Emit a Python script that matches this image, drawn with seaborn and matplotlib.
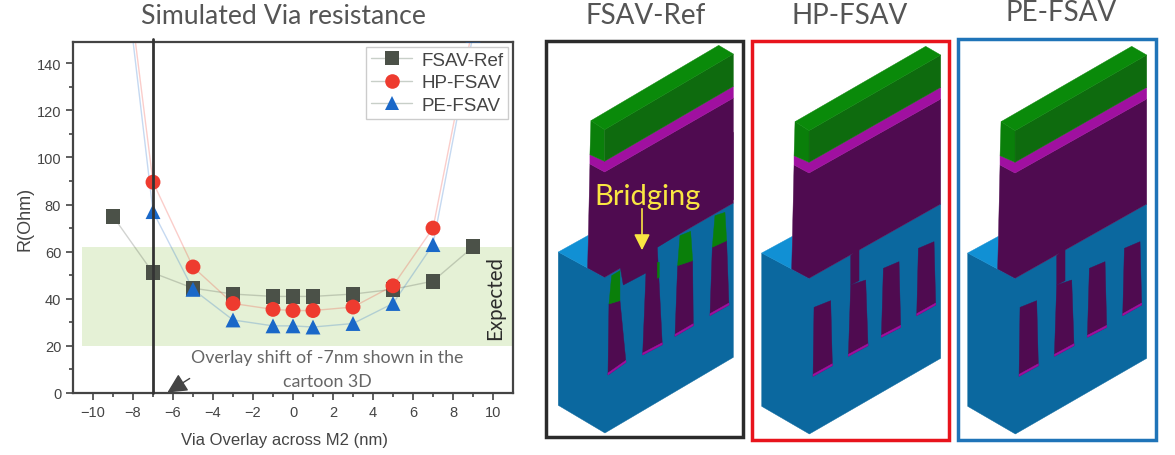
import numpy as np
import pandas as pd
import seaborn as sns
import matplotlib.pyplot as plt
from matplotlib.lines import Line2D
from matplotlib.patches import Polygon, Rectangle

overlay = [-9, -7, -5, -3, -1, 0, 1, 3, 5, 7, 9]
fsav_ref = [75, 51, 44.5, 42, 41, 41, 41, 42, 44, 47.5, 62]
hp_fsav = [225, 89.5, 53.5, 38, 35.5, 35, 35, 36.5, 45.5, 70, 156]
pe_fsav = [222, 77, 44, 31, 28.5, 28.5, 28, 29.5, 38, 63, 152]
series_names = ['FSAV-Ref', 'HP-FSAV', 'PE-FSAV']
expected_low = 20
expected_high = 62

sns.set_theme(style='ticks')
plt.rcParams['font.family'] = ['Liberation Sans', 'DejaVu Sans']

df = pd.DataFrame({'overlay': overlay * 3,
                   'R': fsav_ref + hp_fsav + pe_fsav,
                   'device': np.repeat(series_names, len(overlay))})
colors = {'FSAV-Ref': '#4b5148', 'HP-FSAV': '#ee3b2f', 'PE-FSAV': '#1a68c8'}
markers = {'FSAV-Ref': 's', 'HP-FSAV': 'o', 'PE-FSAV': '^'}

fig = plt.figure(figsize=(11.75, 4.56), dpi=100)
ax = fig.add_axes([73 / 1175, 1 - 394 / 456, (513 - 73) / 1175, (394 - 43) / 456])

ax.axhspan(expected_low, expected_high, xmin=0.02, color='#e5f1d6', lw=0, zorder=0)
sns.lineplot(data=df, x='overlay', y='R', hue='device', palette=colors, sort=False,
             lw=1, alpha=0.25, legend=False, ax=ax, zorder=2)
sns.scatterplot(data=df, x='overlay', y='R', hue='device', style='device', palette=colors,
                markers=markers, s=115, linewidth=0, legend=False, ax=ax, zorder=3)
ax.axvline(-7, ymin=0, ymax=1.008, color='#333333', lw=2, zorder=4, clip_on=False)

ax.set_xlim(-11, 11)
ax.set_ylim(0, 149)
ax.set_xticks(range(-10, 11, 2))
ax.set_xticks(range(-9, 10, 2), minor=True)
ax.set_yticks(range(0, 141, 20))
ax.set_yticks(range(10, 141, 20), minor=True)
ax.tick_params(axis='both', which='major', length=5, width=1.2, color='#444444',
               labelsize=10.5, labelcolor='#444444')
ax.tick_params(axis='both', which='minor', length=3, width=1.2, color='#444444')
ax.set_xlabel('Via Overlay across M2 (nm)', fontsize=12, color='#444444')
ax.xaxis.set_label_coords(0.48, -0.112)
ax.set_ylabel('R(Ohm)', fontsize=13, color='#444444', labelpad=2)
for side in ax.spines.values():
    side.set_linewidth(1.6)
    side.set_color('#444444')

handles = [Line2D([], [], color=colors[n], marker=markers[n], ms=10.5, mew=0,
                  lw=1, alpha=1, label=n) for n in series_names]
leg = ax.legend(handles=handles, loc='upper right', fontsize=13.5, frameon=True, fancybox=False,
                framealpha=1, edgecolor='#cccccc', borderpad=0.25, labelspacing=0.3,
                handlelength=2.2, handletextpad=0.5, borderaxespad=0.25, labelcolor='#444444')
for line in leg.get_lines():
    line.set_color('#c8cfc8')
    line.set_markerfacecolor(colors[line.get_label()])

# overlay axes in pixels for the text and the 3D cartoons
top = fig.add_axes([0, 0, 1, 1], zorder=10)
top.set_xlim(0, 1175)
top.set_ylim(456, 0)
top.axis('off')
top.patch.set_alpha(0)

title_font = dict(family='Lato', color='#555555', ha='center', va='center')
top.text(283, 17, 'Simulated Via resistance', fontsize=19.2, **title_font)
top.text(646, 16, 'FSAV-Ref', fontsize=20, **title_font)
top.text(850, 16, 'HP-FSAV', fontsize=20, **title_font)
top.text(1061, 13, 'PE-FSAV', fontsize=20, **title_font)
top.text(327, 370, 'Overlay shift of -7nm shown in the\ncartoon 3D', fontsize=12.8, family='Lato',
         color='#666666', ha='center', va='center', linespacing=1.55)
top.text(495, 298, 'Expected', fontsize=14.8, family='Lato', color='#2b2b2b', rotation=90,
         ha='center', va='center')
top.annotate('', xy=(165, 395), xytext=(192, 378),
             arrowprops=dict(arrowstyle='-|>', color='#444444', lw=1, mutation_scale=30))

BLUE = '#0b689f'
SKY = '#1190d4'
PURPLE = '#4f0b50'
MAGENTA = '#a010a0'
GREEN = '#0a7f0a'
DARK_GREEN = '#0e6b0e'
TOP_GREEN = '#0a8a0a'


def draw_poly(pts, color, x0, y0, sx=1.0):
    # pts are in units of 1/3 pixel, measured from the left corner of the block
    xy = [(x0 + sx * u / 3, y0 + v / 3) for u, v in pts]
    top.add_patch(Polygon(xy, closed=True, fc=color, ec=color, lw=0.3))


def draw_body(x0, y0, sx):
    draw_poly([(0, 762), (142, 838), (537, 615), (537, 1078), (143, 1305), (0, 1222)], BLUE, x0, y0, sx)
    draw_poly([(0, 762), (92, 712), (92, 810), (142, 838)], SKY, x0, y0, sx)
    draw_poly([(97, 498), (142, 522), (537, 300), (537, 615), (142, 838), (90, 810)], PURPLE, x0, y0, sx)
    draw_poly([(97, 470), (142, 490), (537, 265), (537, 300), (142, 522), (97, 498)], MAGENTA, x0, y0, sx)
    draw_poly([(100, 368), (142, 395), (142, 490), (97, 470)], GREEN, x0, y0, sx)
    draw_poly([(142, 395), (537, 168), (537, 265), (142, 490)], DARK_GREEN, x0, y0, sx)
    draw_poly([(100, 368), (492, 142), (537, 168), (142, 395)], TOP_GREEN, x0, y0, sx)


def draw_via(pts, x0, y0, sx=1.0, cap=None):
    draw_poly(pts, PURPLE, x0, y0, sx)
    # thin magenta rim along the bottom of the via
    bl, br = pts[-1], pts[-2]
    draw_poly([bl, br, (br[0], br[1] - 6), (bl[0], bl[1] - 6)], MAGENTA, x0, y0, sx)
    if cap is not None:
        draw_poly(cap, GREEN, x0, y0, sx)


# reference panel, with the bridging vias
top.add_patch(Rectangle((546, 42), 197, 396, fc='none', ec='#2b2b2b', lw=2.5))
x1 = 558.3
draw_body(x1, -1, 0.978)
draw_poly([(137, 822), (185, 800), (195, 858), (263, 822), (253, 1068), (312, 1037), (297, 745),
           (525, 602), (525, 400), (137, 600)], PURPLE, x1, 0)
draw_poly([(253, 1068), (312, 1037), (312, 1031), (253, 1062)], MAGENTA, x1, 0)
draw_via([(152, 915), (185, 905), (203, 1090), (149, 1128)], x1, 0,
         cap=[(152, 915), (185, 905), (185, 815), (160, 830)])
draw_via([(358, 800), (403, 785), (405, 980), (350, 1012)], x1, 0,
         cap=[(358, 800), (403, 785), (397, 697), (365, 710)])
draw_via([(462, 745), (505, 725), (512, 918), (455, 950)], x1, 0,
         cap=[(462, 745), (505, 725), (500, 640), (470, 650)])
draw_poly([(297, 790), (303, 790), (303, 835), (297, 838)], GREEN, x1, 0)
top.text(648, 197, 'Bridging', fontsize=21, family='Lato', color='#f9e642', ha='center', va='center')
top.annotate('', xy=(642, 254), xytext=(642, 207),
             arrowprops=dict(arrowstyle='-|>', color='#f9e642', lw=1.2, mutation_scale=24))

# clean panels share the same shape
panel_boxes = [(752, 42, 197, 399, '#e8141c', 761.7), (958, 40, 198, 401, '#1f74b8', 967.7)]
for bx, by, bw, bh, edge, x0 in panel_boxes:
    top.add_patch(Rectangle((bx, by), bw, bh, fc='none', ec=edge, lw=2.5))
    draw_body(x0, 0, 1.0)
    draw_poly([(267, 770), (292, 745), (292, 845), (267, 858)], PURPLE, x0, 0)
    draw_via([(267, 858), (312, 843), (319, 1040), (260, 1072)], x0, 0)
    draw_via([(157, 925), (207, 905), (212, 1100), (154, 1132)], x0, 0)
    draw_via([(365, 808), (412, 788), (417, 985), (359, 1015)], x0, 0)
    draw_via([(470, 748), (517, 728), (522, 918), (465, 950)], x0, 0)

fig.savefig('out.png', dpi=100)
